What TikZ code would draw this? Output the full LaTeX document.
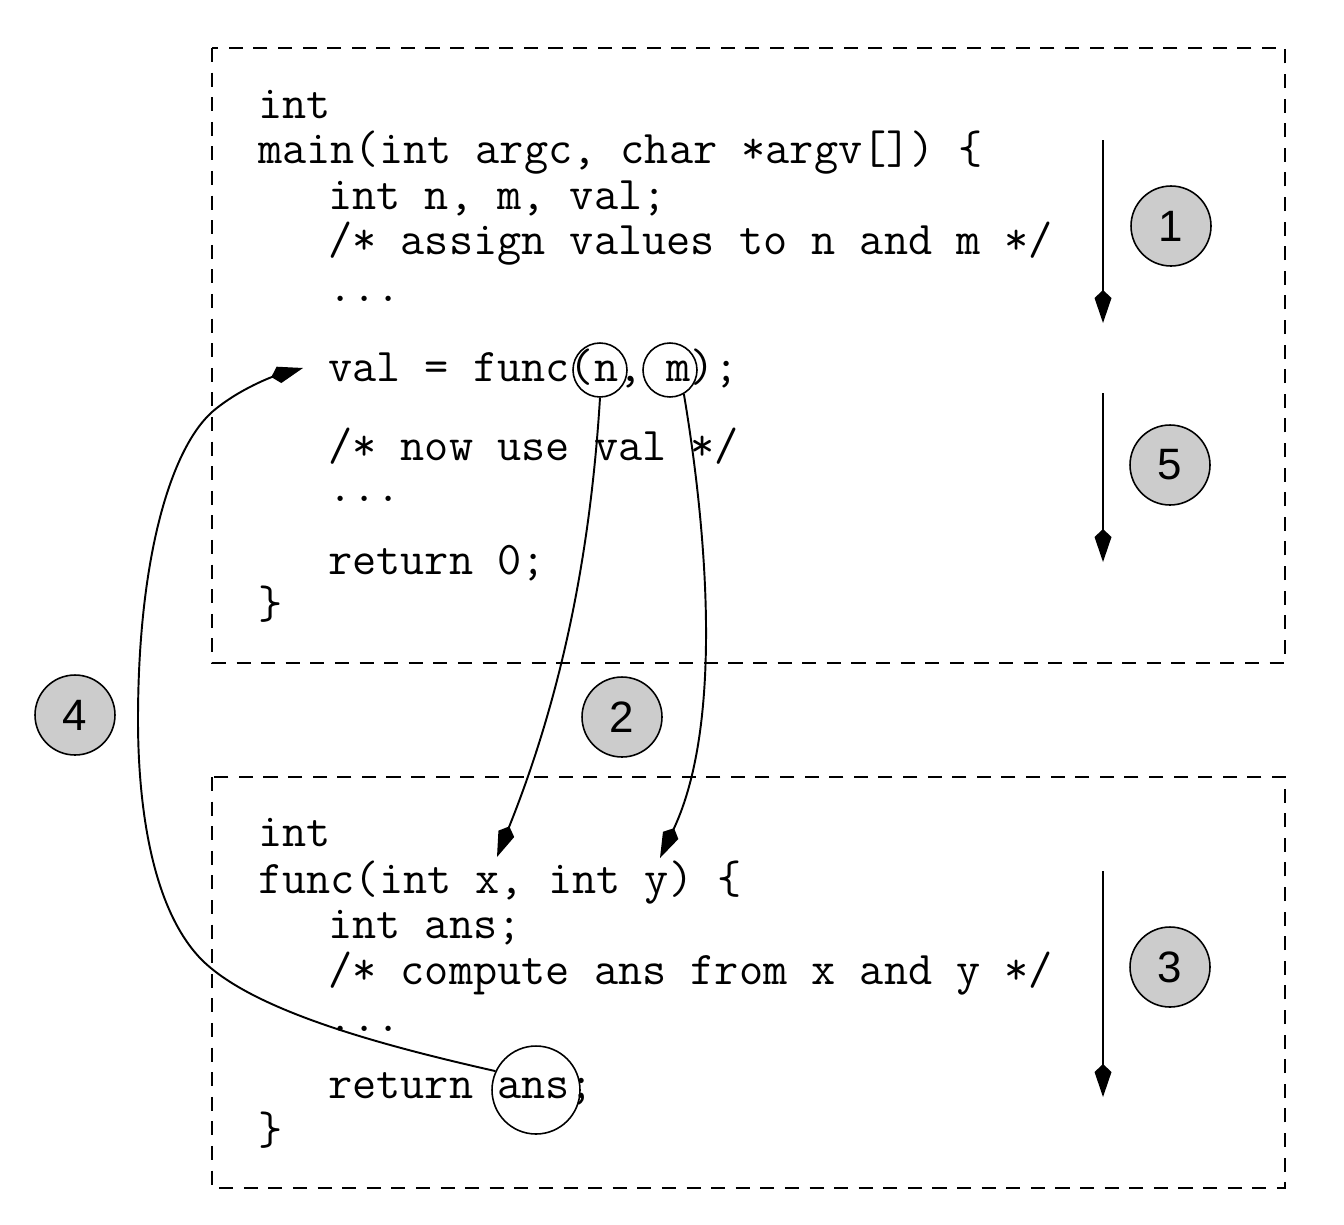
\documentclass[tikz,border=0pt]{standalone}
\usepackage{fontspec}
\newfontfamily\numfont{Liberation Sans}
\usetikzlibrary{arrows.meta}

\begin{document}
\begin{tikzpicture}[x=0.02cm, y=-0.02cm]
    \tikzset{>={Kite[length=0.66cm,width=0.34cm,inset=0.16cm]}}
    \tikzset{code/.style={anchor=base west, inner sep=0pt, font=\ttfamily\fontsize{26.7}{30}\selectfont},
        stepnum/.style={circle, draw, line width=0.9pt, fill=gray!40, minimum size=1.6cm, inner sep=0pt, font=\numfont\fontsize{25}{28}\selectfont},
        ring/.style={circle, draw, line width=0.9pt, inner sep=0pt},
        frame/.style={dash pattern=on 8pt off 6pt, line width=0.8pt},
        flow/.style={->, line width=1.1pt}}
    \useasboundingbox (0,0) rectangle (1344,1224);
    \draw[frame] (212,48) rectangle (1285,663);
    \draw[frame] (212,777) rectangle (1285,1188);
    \node[code] (m1) at (258,118) {int};
    \node[code] (m2) at (258,163) {main(int argc, char *argv[]) \{};
    \node[code] (m3) at (328,209) {int n, m, val;};
    \node[code] (m4) at (328,254) {/* assign values to n and m */};
    \node[code] (m5) at (328,301) {...};
    \node[code] (m6) at (328,381) {val = func(n, m);};
    \node[code] (m7) at (328,460) {/* now use val */};
    \node[code] (m8) at (328,501) {...};
    \node[code] (m9) at (328,574) {return 0;};
    \node[code] (m10) at (258,618) {\}};
    \node[code] (f1) at (258,846) {int};
    \node[code] (f2) at (258,893) {func(int x, int y) \{};
    \node[code] (f3) at (328,938) {int ans;};
    \node[code] (f4) at (328,984) {/* compute ans from x and y */};
    \node[code] (f5) at (328,1031) {...};
    \node[code] (f6) at (328,1098) {return ans;};
    \node[code] (f7) at (258,1144) {\}};
    \node[ring, minimum size=1.08cm] (nring) at (600,370) {};
    \node[ring, minimum size=1.08cm] (mring) at (670,370) {};
    \node[ring, minimum size=1.76cm] (ansring) at (536,1090) {};
    \coordinate (xin) at (497,857);
    \coordinate (yin) at (660,858);
    \coordinate (valin) at (303,368);
    \draw[flow] (nring.south) .. controls (590,560) and (560,700) .. (xin);
    \draw[flow] (mring.-60) .. controls (705,520) and (725,720) .. (yin);
    \draw[flow] (ansring.155) .. controls (380,1045) and (250,1010) .. (200,958)
        .. controls (150,905) and (138,800) .. (138,720)
        .. controls (138,560) and (170,450) .. (212,412)
        .. controls (240,388) and (275,376) .. (valin);
    \coordinate (s1a) at (1103,140);
    \coordinate (s1b) at (1103,323);
    \coordinate (s5a) at (1103,393);
    \coordinate (s5b) at (1103,562);
    \coordinate (s3a) at (1103,871);
    \coordinate (s3b) at (1103,1097);
    \draw[flow] (s1a) -- (s1b);
    \draw[flow] (s5a) -- (s5b);
    \draw[flow] (s3a) -- (s3b);
    \node[stepnum] (n1) at (1171,226) {1};
    \node[stepnum] (n5) at (1170,465) {5};
    \node[stepnum] (n3) at (1170,967) {3};
    \node[stepnum] (n4) at (75,715) {4};
    \node[stepnum] (n2) at (622,717) {2};
\end{tikzpicture}
\end{document}
